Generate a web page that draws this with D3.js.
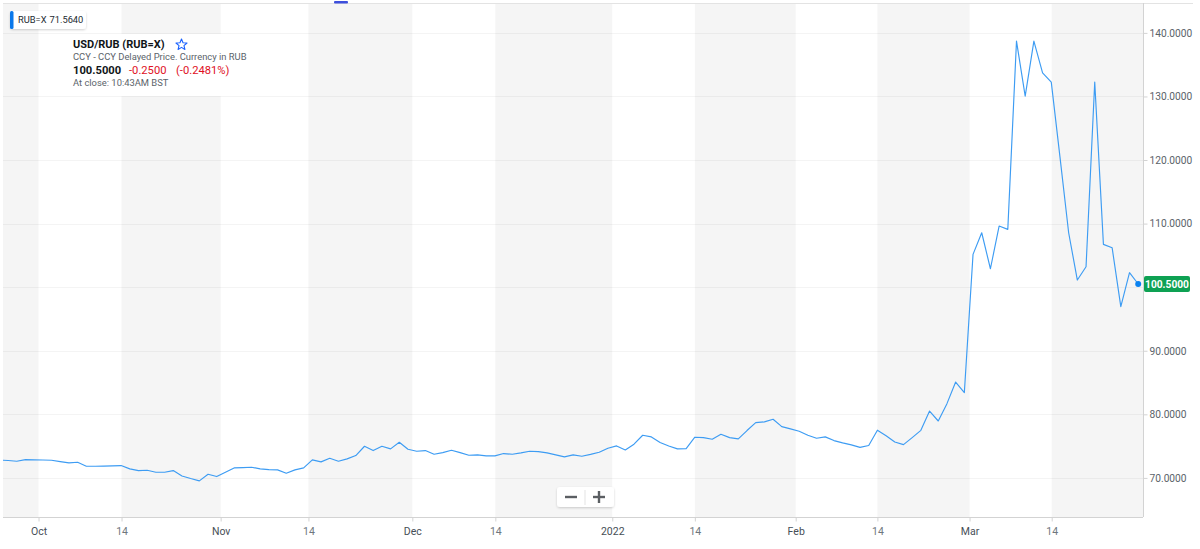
<!DOCTYPE html>
<html>
<head>
<meta charset="utf-8">
<script src="https://cdn.jsdelivr.net/npm/d3@7"></script>
<style>
  html, body { margin: 0; padding: 0; background: #fff; }
  svg { display: block; font-family: Roboto, "Open Sans", Arial, sans-serif; }
</style>
</head>
<body>
<svg id="chart" width="1200" height="549"></svg>
<script>
// ---------------- DATA ----------------
// USD/RUB daily closes, one point per trading day (27 Sep 2021 .. 28 Mar 2022)
const values = [
  72.80, 72.74, 72.62, 72.88, 72.83, 72.81, 72.78, 72.57, 72.36, 72.46,
  71.84, 71.84, 71.86, 71.89, 71.94, 71.42, 71.15, 71.21, 70.89, 70.89,
  71.15, 70.31, 69.90, 69.53, 70.58, 70.21, 70.89, 71.57, 71.62, 71.68,
  71.42, 71.31, 71.26, 70.73, 71.26, 71.57, 72.83, 72.52, 73.09, 72.62,
  72.99, 73.51, 74.98, 74.30, 74.98, 74.56, 75.61, 74.51, 74.20, 74.30,
  73.72, 73.98, 74.35, 73.98, 73.57, 73.62, 73.46, 73.46, 73.83, 73.72,
  73.93, 74.20, 74.14, 73.93, 73.62, 73.30, 73.62, 73.41, 73.70, 74.04,
  74.67, 75.03, 74.40, 75.30, 76.71, 76.45, 75.56, 75.03, 74.56, 74.61,
  76.40, 76.34, 76.08, 76.87, 76.34, 76.13, 77.45, 78.70, 78.81, 79.23,
  78.07, 77.71, 77.34, 76.71, 76.24, 76.45, 75.87, 75.51, 75.19, 74.80,
  75.10, 77.50, 76.62, 75.65, 75.23, 76.33, 77.48, 80.52, 78.95, 81.68,
  85.08, 83.41, 105.16, 108.56, 102.90, 109.61, 109.09, 138.70, 130.05, 138.70,
  133.72, 132.25, 120.50, 108.56, 101.12, 103.22, 132.25, 106.73, 106.21, 96.93,
  102.28, 100.50
];

// x-axis ticks (position expressed in trading-day index) and their labels
const xTickIndex  = [4.5, 14.05, 25.45, 35.55, 47.5, 57.05, 70.5, 80.0, 91.6, 101.0, 111.6, 121.05];
const xTickLabels = ["Oct", "14", "Nov", "14", "Dec", "14", "2022", "14", "Feb", "14", "Mar", "14"];
const xTickMajor  = [true, false, true, false, true, false, true, false, true, false, true, false];

// y-axis ticks
const yTicks = [70, 80, 90, 100, 110, 120, 130, 140];

// header texts
const symbolTitle = "USD/RUB (RUB=X)";
const subTitle = "CCY - CCY Delayed Price. Currency in RUB";
const lastPrice = "100.5000";
const change = "-0.2500";
const changePct = "(-0.2481%)";
const closeText = "At close: 10:43AM BST";
const compareSymbol = "RUB=X";
const compareValue = "71.5640";

// ---------------- LAYOUT ----------------
const svg = d3.select("#chart");
const plot = { left: 3, right: 1143, top: 3, bottom: 517 };

const x = d3.scaleLinear().domain([0, values.length - 1]).range([-0.6, 1138.2]);
const y = d3.scaleLinear().domain([63.85, 144.7]).range([plot.bottom, plot.top]);

const defs = svg.append("defs");
defs.append("clipPath").attr("id", "clip")
  .append("rect")
  .attr("x", plot.left).attr("y", plot.top)
  .attr("width", plot.right - plot.left).attr("height", plot.bottom - plot.top);

const shadow = defs.append("filter").attr("id", "sh")
  .attr("x", "-20%").attr("y", "-30%").attr("width", "140%").attr("height", "160%");
shadow.append("feDropShadow").attr("dx", 0).attr("dy", 1).attr("stdDeviation", 1.2)
  .attr("flood-color", "#000").attr("flood-opacity", 0.18);

// alternating bands between ticks
const bounds = [plot.left, ...xTickIndex.map(d => x(d)), plot.right];
const bands = d3.pairs(bounds).map((p, i) => ({ x0: p[0], x1: p[1], gray: i % 2 === 0 }));
svg.append("g").selectAll("rect").data(bands.filter(b => b.gray)).join("rect")
  .attr("x", d => d.x0).attr("y", plot.top)
  .attr("width", d => d.x1 - d.x0).attr("height", plot.bottom - plot.top)
  .attr("fill", "#f5f5f5");

// top border line
svg.append("line").attr("x1", plot.left).attr("x2", 1193)
  .attr("y1", plot.top + 0.5).attr("y2", plot.top + 0.5)
  .attr("stroke", "#e3e3e3").attr("stroke-width", 1);

// horizontal gridlines
svg.append("g").selectAll("line").data(yTicks).join("line")
  .attr("x1", plot.left).attr("x2", plot.right)
  .attr("y1", d => Math.round(y(d)) + 0.5).attr("y2", d => Math.round(y(d)) + 0.5)
  .attr("stroke", "#000").attr("stroke-opacity", 0.045);

const lastI = values.length - 1;
const lastY = y(values[lastI]);

// right axis (labels hidden where the live price label sits)
const yAxis = d3.axisRight(y).tickValues(yTicks).tickSize(4).tickPadding(2)
  .tickFormat(d => d3.format(".4f")(d));
const gy = svg.append("g").attr("transform", `translate(${plot.right + 0.5},0)`).call(yAxis);
gy.select(".domain").attr("d", `M0,${plot.top}V${plot.bottom}`).attr("stroke", "#d3d3d3");
gy.selectAll(".tick line").attr("stroke", "#d3d3d3");
gy.selectAll(".tick text").attr("fill", "#5b636a").attr("font-size", "10.2px")
  .attr("font-family", "Roboto, Arial, sans-serif");
gy.selectAll(".tick").filter(d => Math.abs(y(d) - lastY) < 12).select("text").remove();

// bottom axis
const xAxis = d3.axisBottom(x).tickValues(xTickIndex).tickSize(4).tickPadding(6)
  .tickFormat((d, i) => xTickLabels[i]);
const gx = svg.append("g").attr("transform", `translate(0,${plot.bottom + 0.5})`).call(xAxis);
gx.select(".domain").attr("d", `M${plot.left},0H${plot.right}`).attr("stroke", "#d3d3d3");
gx.selectAll(".tick line").attr("stroke", "#d3d3d3");
gx.selectAll(".tick text")
  .attr("fill", (d, i) => xTickMajor[i] ? "#464e56" : "#6f777e")
  .attr("font-size", "10.5px")
  .attr("font-family", "Roboto, Arial, sans-serif");

// price line
const line = d3.line().x((d, i) => x(i)).y(d => y(d));
svg.append("path").datum(values)
  .attr("clip-path", "url(#clip)")
  .attr("d", line)
  .attr("fill", "none").attr("stroke", "#3d9cf3").attr("stroke-width", 1.15)
  .attr("stroke-linejoin", "round");

// last point marker
svg.append("circle").attr("cx", x(lastI)).attr("cy", lastY).attr("r", 3)
  .attr("fill", "#0a82f0");

// price label on the axis
const pl = svg.append("g").attr("transform", `translate(${plot.right + 1},${lastY})`);
pl.append("rect").attr("x", 0).attr("y", -8).attr("width", 46).attr("height", 16).attr("rx", 2)
  .attr("fill", "#0ea153");
pl.append("text").attr("x", 23).attr("y", 0).attr("dy", "0.36em").attr("text-anchor", "middle")
  .attr("fill", "#fff").attr("font-weight", "bold").attr("font-size", "10.2px")
  .text(d3.format(".4f")(values[lastI]));

// ---------------- HEADER PANEL ----------------
svg.append("rect").attr("x", 40).attr("y", 34).attr("width", 230).attr("height", 62).attr("fill", "#fff");

const hdr = svg.append("g");
hdr.append("text").attr("x", 73).attr("y", 48).attr("font-size", "11px").attr("font-weight", "bold")
  .attr("fill", "#101518").text(symbolTitle);
// star outline (5-point)
const starPts = d3.range(10).map(i => {
  const r = i % 2 === 0 ? 5.8 : 2.6;
  const a = -Math.PI / 2 + i * Math.PI / 5;
  return [r * Math.cos(a), r * Math.sin(a)];
});
hdr.append("path").attr("d", d3.line()(starPts) + "Z").attr("transform", "translate(181.5,44.8)")
  .attr("fill", "none").attr("stroke", "#1a62ff").attr("stroke-width", 1.1).attr("stroke-linejoin", "round");
hdr.append("text").attr("x", 73).attr("y", 59.5).attr("font-size", "9.4px")
  .attr("fill", "#5b636a").text(subTitle);
hdr.append("text").attr("x", 73).attr("y", 74).attr("font-size", "11.2px").attr("font-weight", "bold")
  .attr("fill", "#101518").text(lastPrice);
hdr.append("text").attr("x", 129).attr("y", 74).attr("font-size", "11.2px")
  .attr("fill", "#e0101e").text(change);
hdr.append("text").attr("x", 176).attr("y", 74).attr("font-size", "11.2px")
  .attr("fill", "#e0101e").text(changePct);
hdr.append("text").attr("x", 73).attr("y", 85.5).attr("font-size", "9.4px")
  .attr("fill", "#5b636a").text(closeText);

// comparison chip
const chip = svg.append("g");
chip.append("rect").attr("x", 10).attr("y", 11).attr("width", 76).attr("height", 18).attr("rx", 3)
  .attr("fill", "#fff").attr("filter", "url(#sh)");
chip.append("rect").attr("x", 10).attr("y", 11).attr("width", 3.5).attr("height", 18).attr("rx", 1.5)
  .attr("fill", "#0a78ea");
chip.append("text").attr("x", 18).attr("y", 23.3).attr("font-size", "9.3px").attr("fill", "#232a31")
  .text(compareSymbol);
chip.append("text").attr("x", 49.5).attr("y", 23.3).attr("font-size", "9.3px").attr("fill", "#232a31")
  .text(compareValue);

// top slider handle
svg.append("rect").attr("x", 334).attr("y", 1).attr("width", 14).attr("height", 2.6).attr("rx", 1)
  .attr("fill", "#3d4fdc");

// zoom control
const zc = svg.append("g").attr("transform", "translate(557,487)");
zc.append("rect").attr("width", 57).attr("height", 20).attr("rx", 3).attr("fill", "#fff")
  .attr("filter", "url(#sh)");
zc.append("line").attr("x1", 28).attr("x2", 28).attr("y1", 3).attr("y2", 18)
  .attr("stroke", "#e3e3e3");
zc.append("line").attr("x1", 8).attr("x2", 20).attr("y1", 10).attr("y2", 10)
  .attr("stroke", "#5b5f63").attr("stroke-width", 2.4);
zc.append("line").attr("x1", 36).attr("x2", 48).attr("y1", 10).attr("y2", 10)
  .attr("stroke", "#5b5f63").attr("stroke-width", 2.4);
zc.append("line").attr("x1", 42).attr("x2", 42).attr("y1", 4).attr("y2", 16)
  .attr("stroke", "#5b5f63").attr("stroke-width", 2.4);
</script>
</body>
</html>
